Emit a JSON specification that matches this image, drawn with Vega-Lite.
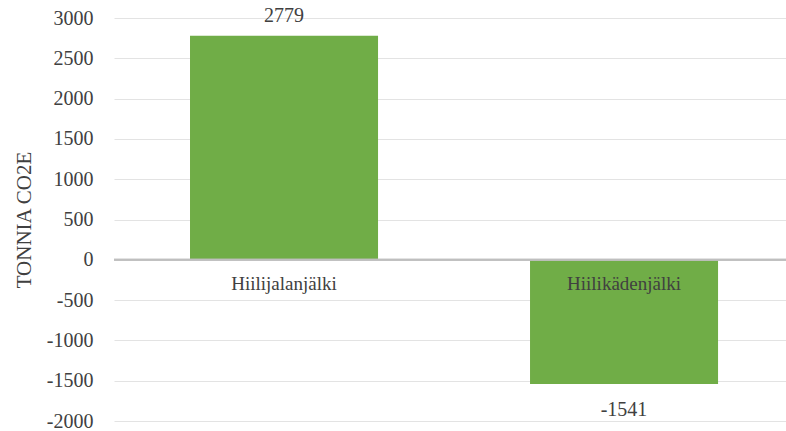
{
  "$schema": "https://vega.github.io/schema/vega-lite/v6.json",
  "autosize": "none",
  "width": 672,
  "height": 403,
  "padding": {"left": 114, "top": 18, "right": 0, "bottom": 10},
  "background": "white",
  "config": {
    "view": {"stroke": null},
    "font": "Liberation Serif"
  },
  "data": {
    "values": [
      {"category": "Hiilijalanjälki", "value": 2779},
      {"category": "Hiilikädenjälki", "value": -1541}
    ]
  },
  "encoding": {
    "x": {
      "field": "category",
      "type": "nominal",
      "sort": null,
      "scale": {"paddingInner": 0.447, "paddingOuter": 0.2117, "align": 0.528},
      "axis": null
    }
  },
  "layer": [
    {
      "mark": {"type": "bar", "color": "#70AD47"},
      "encoding": {
        "y": {
          "field": "value",
          "type": "quantitative",
          "scale": {"domain": [-2000, 3000], "nice": false},
          "axis": {
            "title": "TONNIA CO2E",
            "titleFont": "Liberation Serif",
            "titleFontSize": 21,
            "titleFontWeight": "normal",
            "titleColor": "#404040",
            "titlePadding": 12,
            "values": [-2000, -1500, -1000, -500, 0, 500, 1000, 1500, 2000, 2500, 3000],
            "format": "d",
            "labelExpr": "replace(datum.label, '−', '-')",
            "labelFont": "Liberation Serif",
            "labelFontSize": 20,
            "labelColor": "#404040",
            "labelPadding": 21,
            "ticks": false,
            "domain": false,
            "gridColor": "#e3e3e3",
            "gridWidth": 1
          }
        }
      }
    },
    {
      "mark": {"type": "rule", "color": "#bfbfbf", "strokeWidth": 2},
      "encoding": {"y": {"datum": 0, "type": "quantitative"}, "x": {"value": 0}, "x2": {"value": 672}}
    },
    {
      "mark": {"type": "text", "fontSize": 19, "color": "#404040", "dy": 24, "baseline": "middle", "font": "Liberation Serif"},
      "encoding": {
        "y": {"datum": 0, "type": "quantitative"},
        "text": {"field": "category"}
      }
    },
    {
      "transform": [{"filter": "datum.value >= 0"}],
      "mark": {"type": "text", "fontSize": 20, "color": "#404040", "dy": -20, "baseline": "middle", "font": "Liberation Serif"},
      "encoding": {
        "y": {"field": "value", "type": "quantitative"},
        "text": {"field": "value", "type": "nominal"}
      }
    },
    {
      "transform": [{"filter": "datum.value < 0"}],
      "mark": {"type": "text", "fontSize": 20, "color": "#404040", "dy": 26, "baseline": "middle", "font": "Liberation Serif"},
      "encoding": {
        "y": {"field": "value", "type": "quantitative"},
        "text": {"field": "value", "type": "nominal"}
      }
    }
  ]
}
